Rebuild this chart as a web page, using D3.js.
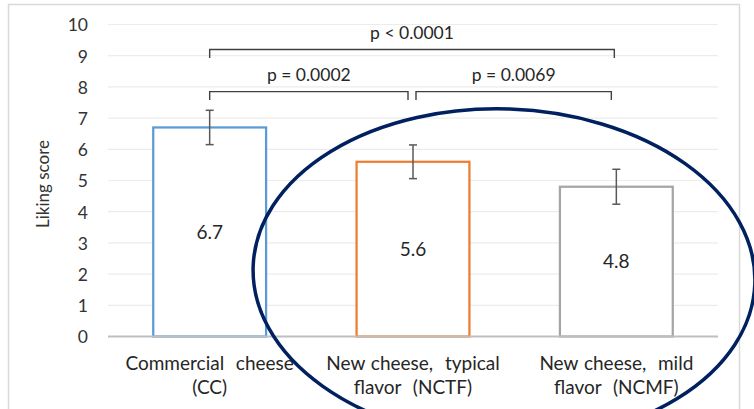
<!DOCTYPE html>
<html>
<head>
<meta charset="utf-8">
<script src="https://cdn.jsdelivr.net/npm/d3@7"></script>
<style>
  html, body { margin: 0; padding: 0; background: #fff; }
  svg { display: block; font-family: Lato, "Open Sans", sans-serif; }
</style>
</head>
<body>
<svg id="chart" width="754" height="409"></svg>
<script>
// Liking scores for the three cheeses
const categories = [
  ["Commercial  cheese", "(CC)"],
  ["New cheese,  typical", "flavor  (NCTF)"],
  ["New cheese,  mild", "flavor  (NCMF)"]
];
const keys = ["CC", "NCTF", "NCMF"];
const scores = [6.7, 5.6, 4.8];
const errors = [0.55, 0.54, 0.56];
const barColors = ["#5B9BD5", "#ED7D31", "#A5A5A5"];
const yTicks = [0, 1, 2, 3, 4, 5, 6, 7, 8, 9, 10];

// Pairwise comparisons: [from, to, label, bracket height]
const comparisons = [
  ["CC", "NCTF", "p = 0.0002", 7.85],
  ["NCTF", "NCMF", "p = 0.0069", 7.85],
  ["CC", "NCMF", "p < 0.0001", 9.2]
];

const svg = d3.select("#chart");

// outer chart frame
svg.append("rect")
  .attr("x", 8.5).attr("y", 4.5)
  .attr("width", 731).attr("height", 420)
  .attr("fill", "#fff")
  .attr("stroke", "#d9d9d9")
  .attr("stroke-width", 1.5);

const x = d3.scaleBand()
  .domain(keys)
  .range([108, 718])
  .paddingInner(0.445)
  .paddingOuter(0.2225);

const y = d3.scaleLinear().domain([0, 10]).range([336.5, 24.5]);

// gridlines
svg.append("g")
  .selectAll("line")
  .data(yTicks.filter(d => d > 0))
  .join("line")
  .attr("x1", 108).attr("x2", 718)
  .attr("y1", d => y(d)).attr("y2", d => y(d))
  .attr("stroke", "#ececec")
  .attr("stroke-width", 1.2);

// y axis labels
const yAxis = d3.axisLeft(y).tickValues(yTicks).tickSize(0).tickPadding(0);
const yg = svg.append("g").attr("transform", "translate(88,0)").call(yAxis);
yg.select(".domain").remove();
yg.selectAll("text")
  .attr("font-family", "Lato, sans-serif")
  .attr("font-size", 17.5)
  .attr("fill", "#333")
  .attr("dy", "0.36em");

// y axis title
svg.append("text")
  .attr("transform", "translate(49,184) rotate(-90)")
  .attr("text-anchor", "middle")
  .attr("font-size", 17)
  .attr("fill", "#333")
  .text("Liking score");

// bars
const bars = svg.append("g");
bars.selectAll("rect")
  .data(scores)
  .join("rect")
  .attr("x", (d, i) => x(keys[i]))
  .attr("y", d => y(d))
  .attr("width", x.bandwidth())
  .attr("height", d => y(0) - y(d))
  .attr("fill", "#fff")
  .attr("stroke", (d, i) => barColors[i])
  .attr("stroke-width", 2.25);

// value labels, centred in each bar
svg.append("g")
  .selectAll("text")
  .data(scores)
  .join("text")
  .attr("x", (d, i) => x(keys[i]) + x.bandwidth() / 2)
  .attr("y", d => (y(d) + y(0)) / 2)
  .attr("dy", "0.36em")
  .attr("text-anchor", "middle")
  .attr("font-size", 19)
  .attr("fill", "#262626")
  .text(d => d.toFixed(1));

// x axis baseline
svg.append("line")
  .attr("x1", 108).attr("x2", 718)
  .attr("y1", y(0)).attr("y2", y(0))
  .attr("stroke", "#bfbfbf")
  .attr("stroke-width", 2);

// error bars
const eg = svg.append("g").attr("stroke", "#595959").attr("stroke-width", 1.5);
scores.forEach((v, i) => {
  const cx = x(keys[i]) + x.bandwidth() / 2;
  const hi = y(v + errors[i]), lo = y(v - errors[i]);
  eg.append("line").attr("x1", cx).attr("x2", cx).attr("y1", hi).attr("y2", lo);
  eg.append("line").attr("x1", cx - 4).attr("x2", cx + 4).attr("y1", hi).attr("y2", hi);
  eg.append("line").attr("x1", cx - 4).attr("x2", cx + 4).attr("y1", lo).attr("y2", lo);
});

// category labels
const xl = svg.append("g");
categories.forEach((lines, i) => {
  const t = xl.append("text")
    .attr("x", x(keys[i]) + x.bandwidth() / 2)
    .attr("y", 370)
    .attr("text-anchor", "middle")
    .attr("font-size", 19)
    .attr("fill", "#262626")
    .style("white-space", "pre")
    .style("word-spacing", "1px");
  lines.forEach((ln, j) => {
    t.append("tspan")
      .attr("x", x(keys[i]) + x.bandwidth() / 2)
      .attr("dy", j === 0 ? 0 : 24)
      .text(ln);
  });
});

// significance brackets
const center = k => x(k) + x.bandwidth() / 2;
const bg = svg.append("g");
comparisons.forEach(([a, b, label, level]) => {
  const adjacent = Math.abs(keys.indexOf(a) - keys.indexOf(b)) === 1;
  const x1 = center(a) + (adjacent && keys.indexOf(a) > 0 ? 3 : 0);
  const x2 = center(b) - (adjacent ? 5 : 2);
  const yy = y(level);
  bg.append("path")
    .attr("d", `M${x1},${yy + 8.5}V${yy}H${x2}V${yy + 8.5}`)
    .attr("fill", "none")
    .attr("stroke", "#404040")
    .attr("stroke-width", 1.4);
  bg.append("text")
    .attr("x", (x1 + x2) / 2)
    .attr("y", yy - 10.5)
    .attr("text-anchor", "middle")
    .attr("font-size", 17.5)
    .attr("fill", "#262626")
    .text(label);
});

// highlight ellipse around the two new cheeses
svg.append("ellipse")
  .attr("cx", 0).attr("cy", 0)
  .attr("rx", 251).attr("ry", 166)
  .attr("transform", "translate(504,275) rotate(2)")
  .attr("fill", "none")
  .attr("stroke", "#002060")
  .attr("stroke-width", 3.5);
</script>
</body>
</html>
